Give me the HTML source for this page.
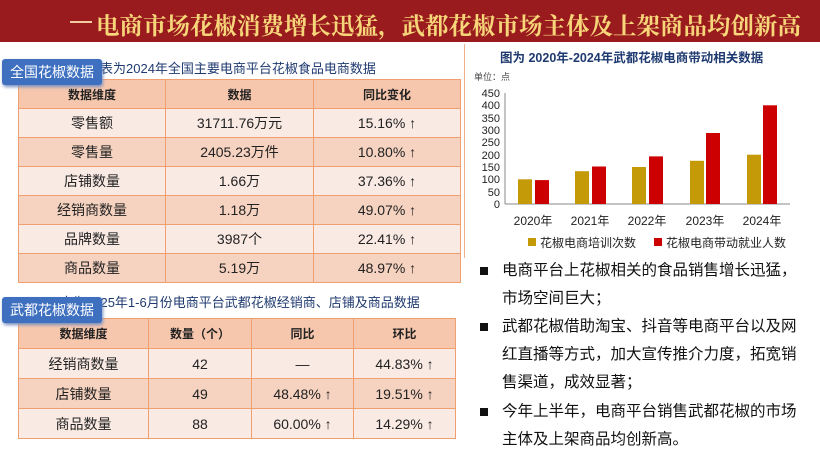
<!DOCTYPE html>
<html><head><meta charset="utf-8"><style>
*{margin:0;padding:0;box-sizing:border-box}
body{width:820px;height:457px;background:#fff;position:relative;overflow:hidden;font-family:"Liberation Sans","Noto Sans CJK SC",sans-serif}
.hdr{position:absolute;left:0;top:0;width:820px;height:42px;background:#9a1b1e}
.hdr .t{position:absolute;left:96px;top:7px;font-family:"Liberation Serif","Noto Serif CJK SC",serif;font-size:23.5px;font-weight:bold;color:#f7d67a;white-space:nowrap}
.hdr .line{position:absolute;left:70px;top:21px;width:22px;height:2px;background:#f2c9a0}
table{position:absolute;border-collapse:collapse;table-layout:fixed}
td{border:1.5px solid #f0a070;text-align:center;font-size:14px;color:#222}
tr.h td{background:#f6c7ad;font-weight:bold;font-size:12px}
tr.a td{background:#faeae4}
tr.b td{background:#f6d2c0}
.tag{position:absolute;background:#3f70c0;color:#fff;font-size:14px;padding:3px 8px;border-radius:3px;box-shadow:1px 2px 3px #7890c0}
.cap{position:absolute;font-size:13px;color:#1f3a70;white-space:nowrap}
.bul{position:absolute;left:480px;font-size:15.5px;color:#111;line-height:28px;width:330px}
.bul b{position:absolute;left:0;top:10px;width:8px;height:8px;background:#111}
.bul div{margin-left:22px;width:298px}
</style></head><body>
<div class="hdr"><div class="line"></div><div class="t">电商市场花椒消费增长迅猛，武都花椒市场主体及上架商品均创新高</div></div>
<div class="cap" style="left:100px;top:58px">表为2024年全国主要电商平台花椒食品电商数据</div>
<table style="left:18px;top:79px;width:442px">
<colgroup><col style="width:147px"><col style="width:148px"><col style="width:147px"></colgroup>
<tr class="h" style="height:29px"><td>数据维度</td><td>数据</td><td>同比变化</td></tr>
<tr class="a" style="height:29px"><td>零售额</td><td>31711.76万元</td><td>15.16% ↑</td></tr>
<tr class="b" style="height:29px"><td>零售量</td><td>2405.23万件</td><td>10.80% ↑</td></tr>
<tr class="a" style="height:29px"><td>店铺数量</td><td>1.66万</td><td>37.36% ↑</td></tr>
<tr class="b" style="height:29px"><td>经销商数量</td><td>1.18万</td><td>49.07% ↑</td></tr>
<tr class="a" style="height:29px"><td>品牌数量</td><td>3987个</td><td>22.41% ↑</td></tr>
<tr class="b" style="height:29px"><td>商品数量</td><td>5.19万</td><td>48.97% ↑</td></tr>
</table>
<div class="tag" style="left:2px;top:59px">全国花椒数据</div>
<div class="cap" style="left:60px;top:292px">表为2025年1-6月份电商平台武都花椒经销商、店铺及商品数据</div>
<table style="left:18px;top:318px;width:437px">
<colgroup><col style="width:130px"><col style="width:103px"><col style="width:102px"><col style="width:102px"></colgroup>
<tr class="h" style="height:30px"><td>数据维度</td><td>数量（个）</td><td>同比</td><td>环比</td></tr>
<tr class="a" style="height:30px"><td>经销商数量</td><td>42</td><td>—</td><td>44.83% ↑</td></tr>
<tr class="b" style="height:30px"><td>店铺数量</td><td>49</td><td>48.48% ↑</td><td>19.51% ↑</td></tr>
<tr class="a" style="height:30px"><td>商品数量</td><td>88</td><td>60.00% ↑</td><td>14.29% ↑</td></tr>
</table>
<div class="tag" style="left:2px;top:297px">武都花椒数据</div>
<div style="position:absolute;left:464px;top:44px;width:350px;height:214px;border-left:1px solid #f0b090"></div>
<svg style="position:absolute;left:0;top:0" width="820" height="457" font-family="Liberation Sans,Noto Sans CJK SC,sans-serif">
<text x="500" y="62" font-size="12.5" fill="#1f3a70" font-weight="bold">图为 2020年-2024年武都花椒电商带动相关数据</text>
<text x="474" y="80" font-size="9" fill="#444">单位：点</text>
<g font-size="11" fill="#222" text-anchor="end">
<text x="500" y="97">450</text><text x="500" y="109">400</text><text x="500" y="122">350</text><text x="500" y="134">300</text><text x="500" y="146">250</text><text x="500" y="159">200</text><text x="500" y="171">150</text><text x="500" y="183">100</text><text x="500" y="196">50</text><text x="500" y="208">0</text>
</g>
<line x1="505" y1="93" x2="505" y2="204" stroke="#888"/>
<line x1="505" y1="204" x2="790" y2="204" stroke="#888"/>
<g fill="#c59a08">
<rect x="518" y="179.3" width="14" height="24.7"/><rect x="575" y="171.2" width="14" height="32.8"/><rect x="632" y="167" width="14" height="37"/><rect x="690" y="160.8" width="14" height="43.2"/><rect x="747" y="154.7" width="14" height="49.3"/>
</g>
<g fill="#cc0000">
<rect x="535" y="180.1" width="14" height="23.9"/><rect x="592" y="166.5" width="14" height="37.5"/><rect x="649" y="156.4" width="14" height="47.6"/><rect x="706" y="133" width="14" height="71"/><rect x="763" y="105.3" width="14" height="98.7"/>
</g>
<g font-size="12" fill="#222" text-anchor="middle">
<text x="533" y="225">2020年</text><text x="590" y="225">2021年</text><text x="647" y="225">2022年</text><text x="705" y="225">2023年</text><text x="762" y="225">2024年</text>
</g>
<rect x="528" y="238" width="8" height="8" fill="#c59a08"/><text x="540" y="247" font-size="12" fill="#222">花椒电商培训次数</text>
<rect x="654" y="238" width="8" height="8" fill="#cc0000"/><text x="666" y="247" font-size="12" fill="#222">花椒电商带动就业人数</text>
</svg>
<div class="bul" style="top:257px"><b></b><div>电商平台上花椒相关的食品销售增长迅猛，市场空间巨大；</div></div>
<div class="bul" style="top:313px"><b></b><div>武都花椒借助淘宝、抖音等电商平台以及网红直播等方式，加大宣传推介力度，拓宽销售渠道，成效显著；</div></div>
<div class="bul" style="top:398px"><b></b><div>今年上半年，电商平台销售武都花椒的市场主体及上架商品均创新高。</div></div>
</body></html>
